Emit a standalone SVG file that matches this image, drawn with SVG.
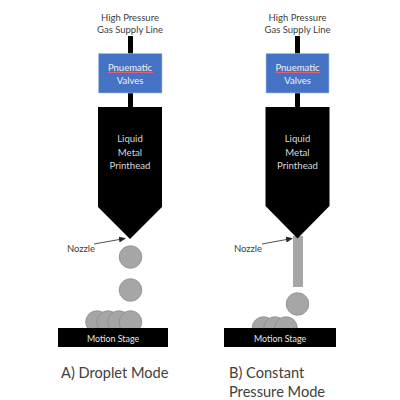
<svg xmlns="http://www.w3.org/2000/svg" width="400" height="400" viewBox="0 0 400 400">
<style>
text{font-family:Lato,"Open Sans","Liberation Sans",sans-serif;text-anchor:middle}
.s{font-size:9.5px;fill:#404040}
.w{font-size:9.5px;fill:#f2f2f2}
.p{font-size:9.6px;fill:#d9d9d9}
.m{font-size:8.9px;fill:#e6e6e6}
.c{font-size:14.6px;fill:#404040;text-anchor:start}
.d{fill:#a6a6a6;stroke:#8c8c8c;stroke-width:.8}
.b{fill:#000}
.v{fill:#4472c4;stroke:#b4c4e4;stroke-width:.6}
.a{stroke:#262626;stroke-width:.8;fill:none;marker-end:url(#h)}
.u{stroke:#e0607a;stroke-width:1;fill:none}
</style>
<defs><marker id="h" markerWidth="7" markerHeight="6" refX="6" refY="3" orient="auto" markerUnits="userSpaceOnUse"><path d="M0 0L7 3L0 6z" fill="#262626"/></marker></defs>
<g id="left-supply"><rect class="b" x="128" y="36" width="5" height="18"/><text class="s" x="130" y="21">High Pressure</text><text class="s" x="130" y="33">Gas Supply Line</text></g>
<g id="left-valves"><rect class="b" x="128" y="93" width="5" height="15"/><rect class="v" x="98.500" y="53.500" width="63.500" height="39.500"/><text class="w" x="130" y="70.500">Pnuematic</text><path class="u" d="M108 72.500H153"/><text class="w" x="130" y="83.500">Valves</text></g>
<g id="left-printhead"><path class="b" d="M98 107H162V207L130 239L98 207Z"/><text class="p" x="130" y="142">Liquid</text><text class="p" x="130" y="156">Metal</text><text class="p" x="130" y="169">Printhead</text></g>
<g id="left-droplets"><circle class="d" cx="130.500" cy="257" r="11.300"/><circle class="d" cx="130.500" cy="290" r="11.300"/><circle class="d" cx="97" cy="322" r="11.300"/><circle class="d" cx="108" cy="322" r="11.300"/><circle class="d" cx="119" cy="322" r="11.300"/><circle class="d" cx="130.500" cy="322" r="11.300"/></g>
<g id="left-stage"><rect class="b" x="58" y="328" width="110" height="19"/><text class="m" x="113" y="341.500">Motion Stage</text></g>
<g id="left-nozzle"><text class="s" x="81" y="252">Nozzle</text></g>
<text class="c" x="61" y="378">A) Droplet Mode</text>
<g id="right-supply"><rect class="b" x="295" y="36" width="5" height="18"/><text class="s" x="297.500" y="21">High Pressure</text><text class="s" x="297.500" y="33">Gas Supply Line</text></g>
<g id="right-valves"><rect class="b" x="295" y="93" width="5" height="15"/><rect class="v" x="266" y="53.500" width="63" height="39.500"/><text class="w" x="297.500" y="70.500">Pnuematic</text><path class="u" d="M275.500 72.500H320.500"/><text class="w" x="297.500" y="83.500">Valves</text></g>
<g id="right-stream"><rect x="293" y="236" width="10" height="51" fill="#a6a6a6"/></g>
<g id="right-printhead"><path class="b" d="M265.500 107H329.500V206L297.500 238.500L265.500 206Z"/><text class="p" x="297.500" y="142">Liquid</text><text class="p" x="297.500" y="156">Metal</text><text class="p" x="297.500" y="169">Printhead</text></g>
<g id="right-droplets"><circle class="d" cx="297.500" cy="304" r="11.300"/><circle class="d" cx="263.500" cy="328" r="11.300"/><circle class="d" cx="275" cy="328" r="11.300"/><circle class="d" cx="286" cy="328" r="11.300"/></g>
<g id="right-stage"><rect class="b" x="224" y="328" width="112" height="19"/><text class="m" x="280" y="341.500">Motion Stage</text></g>
<g id="right-nozzle"><text class="s" x="248" y="252">Nozzle</text></g>
<text class="c" x="229" y="378">B) Constant</text>
<text class="c" x="229" y="397">Pressure Mode</text>
<g id="connectors"><path class="a" d="M94 244L125 238.500"/><path class="a" d="M262 244L292 238.500"/></g>
</svg>
